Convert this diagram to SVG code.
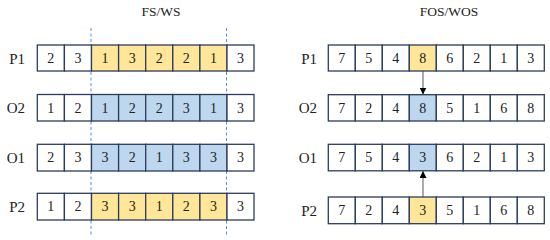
<svg xmlns="http://www.w3.org/2000/svg" width="550" height="240" viewBox="0 0 550 240">
<style>
text{font-family:"Liberation Serif","DejaVu Serif",serif;fill:#222}
.t{font-size:14px;text-anchor:middle}
.lab{font-size:15px;text-anchor:end}
.ttl{font-size:13.5px;text-anchor:middle}
.c{fill:#fff;stroke:#2B3C5E;stroke-width:1.3}
.y{fill:#FFE699;stroke:#2B3C5E;stroke-width:1.3}
.b{fill:#BDD7EE;stroke:#2B3C5E;stroke-width:1.3}
.dash{stroke:#5B8BD6;stroke-width:1;stroke-dasharray:3,2.5;fill:none}
.arr{stroke:#7F7F7F;stroke-width:1.3;fill:none}
</style>
<defs>
<marker id="ah" markerWidth="8" markerHeight="7" refX="7" refY="3.5" orient="auto" markerUnits="userSpaceOnUse">
<path d="M0,0 L7,3.5 L0,7 Z" fill="#000"/>
</marker>
</defs>
<g id="connectors">
<line class="dash" x1="91" y1="28" x2="91" y2="236"/>
<line class="dash" x1="226.5" y1="28" x2="226.5" y2="236"/>
<line class="arr" x1="423" y1="71" x2="423" y2="94.5" marker-end="url(#ah)"/>
<line class="arr" x1="423" y1="197" x2="423" y2="171" marker-end="url(#ah)"/>
</g>
<text class="ttl" x="161" y="16">FS/WS</text>
<text class="ttl" x="449" y="16">FOS/WOS</text>

<g id="L-P1">
<text class="lab" x="25" y="63.5">P1</text>
<rect class="c" x="37.3" y="45" width="27.1" height="26"/><text class="t" x="50.85" y="62.8">2</text>
<rect class="c" x="64.4" y="45" width="27.1" height="26"/><text class="t" x="77.95" y="62.8">3</text>
<rect class="y" x="91.5" y="45" width="27.1" height="26"/><text class="t" x="105.05" y="62.8">1</text>
<rect class="y" x="118.6" y="45" width="27.1" height="26"/><text class="t" x="132.15" y="62.8">3</text>
<rect class="y" x="145.7" y="45" width="27.1" height="26"/><text class="t" x="159.25" y="62.8">2</text>
<rect class="y" x="172.8" y="45" width="27.1" height="26"/><text class="t" x="186.35" y="62.8">2</text>
<rect class="y" x="199.9" y="45" width="27.1" height="26"/><text class="t" x="213.45" y="62.8">1</text>
<rect class="c" x="227" y="45" width="27" height="26"/><text class="t" x="240.5" y="62.8">3</text>
</g>
<g id="L-O2">
<text class="lab" x="25" y="113">O2</text>
<rect class="c" x="37.3" y="94.5" width="27.1" height="26.5"/><text class="t" x="50.85" y="112.5">1</text>
<rect class="c" x="64.4" y="94.5" width="27.1" height="26.5"/><text class="t" x="77.95" y="112.5">2</text>
<rect class="b" x="91.5" y="94.5" width="27.1" height="26.5"/><text class="t" x="105.05" y="112.5">1</text>
<rect class="b" x="118.6" y="94.5" width="27.1" height="26.5"/><text class="t" x="132.15" y="112.5">2</text>
<rect class="b" x="145.7" y="94.5" width="27.1" height="26.5"/><text class="t" x="159.25" y="112.5">2</text>
<rect class="b" x="172.8" y="94.5" width="27.1" height="26.5"/><text class="t" x="186.35" y="112.5">3</text>
<rect class="b" x="199.9" y="94.5" width="27.1" height="26.5"/><text class="t" x="213.45" y="112.5">1</text>
<rect class="c" x="227" y="94.5" width="27" height="26.5"/><text class="t" x="240.5" y="112.5">3</text>
</g>
<g id="L-O1">
<text class="lab" x="25" y="163">O1</text>
<rect class="c" x="37.3" y="144.3" width="27.1" height="26.7"/><text class="t" x="50.85" y="162.4">2</text>
<rect class="c" x="64.4" y="144.3" width="27.1" height="26.7"/><text class="t" x="77.95" y="162.4">3</text>
<rect class="b" x="91.5" y="144.3" width="27.1" height="26.7"/><text class="t" x="105.05" y="162.4">3</text>
<rect class="b" x="118.6" y="144.3" width="27.1" height="26.7"/><text class="t" x="132.15" y="162.4">2</text>
<rect class="b" x="145.7" y="144.3" width="27.1" height="26.7"/><text class="t" x="159.25" y="162.4">1</text>
<rect class="b" x="172.8" y="144.3" width="27.1" height="26.7"/><text class="t" x="186.35" y="162.4">3</text>
<rect class="b" x="199.9" y="144.3" width="27.1" height="26.7"/><text class="t" x="213.45" y="162.4">3</text>
<rect class="c" x="227" y="144.3" width="27" height="26.7"/><text class="t" x="240.5" y="162.4">3</text>
</g>
<g id="L-P2">
<text class="lab" x="25" y="212">P2</text>
<rect class="c" x="37.3" y="193.3" width="27.1" height="26.7"/><text class="t" x="50.85" y="211.4">1</text>
<rect class="c" x="64.4" y="193.3" width="27.1" height="26.7"/><text class="t" x="77.95" y="211.4">2</text>
<rect class="y" x="91.5" y="193.3" width="27.1" height="26.7"/><text class="t" x="105.05" y="211.4">3</text>
<rect class="y" x="118.6" y="193.3" width="27.1" height="26.7"/><text class="t" x="132.15" y="211.4">3</text>
<rect class="y" x="145.7" y="193.3" width="27.1" height="26.7"/><text class="t" x="159.25" y="211.4">1</text>
<rect class="y" x="172.8" y="193.3" width="27.1" height="26.7"/><text class="t" x="186.35" y="211.4">2</text>
<rect class="y" x="199.9" y="193.3" width="27.1" height="26.7"/><text class="t" x="213.45" y="211.4">3</text>
<rect class="c" x="227" y="193.3" width="27" height="26.7"/><text class="t" x="240.5" y="211.4">3</text>
</g>

<g id="R-P1">
<text class="lab" x="317" y="63.5">P1</text>
<rect class="c" x="328.3" y="45" width="27" height="26"/><text class="t" x="341.8" y="62.8">7</text>
<rect class="c" x="355.3" y="45" width="27" height="26"/><text class="t" x="368.8" y="62.8">5</text>
<rect class="c" x="382.3" y="45" width="27" height="26"/><text class="t" x="395.8" y="62.8">4</text>
<rect class="y" x="409.3" y="45" width="27" height="26"/><text class="t" x="422.8" y="62.8">8</text>
<rect class="c" x="436.3" y="45" width="27" height="26"/><text class="t" x="449.8" y="62.8">6</text>
<rect class="c" x="463.3" y="45" width="27" height="26"/><text class="t" x="476.8" y="62.8">2</text>
<rect class="c" x="490.3" y="45" width="27" height="26"/><text class="t" x="503.8" y="62.8">1</text>
<rect class="c" x="517.3" y="45" width="27" height="26"/><text class="t" x="530.8" y="62.8">3</text>
</g>
<g id="R-O2">
<text class="lab" x="317" y="113">O2</text>
<rect class="c" x="328.3" y="94.7" width="27" height="26.3"/><text class="t" x="341.8" y="112.5">7</text>
<rect class="c" x="355.3" y="94.7" width="27" height="26.3"/><text class="t" x="368.8" y="112.5">2</text>
<rect class="c" x="382.3" y="94.7" width="27" height="26.3"/><text class="t" x="395.8" y="112.5">4</text>
<rect class="b" x="409.3" y="94.7" width="27" height="26.3"/><text class="t" x="422.8" y="112.5">8</text>
<rect class="c" x="436.3" y="94.7" width="27" height="26.3"/><text class="t" x="449.8" y="112.5">5</text>
<rect class="c" x="463.3" y="94.7" width="27" height="26.3"/><text class="t" x="476.8" y="112.5">1</text>
<rect class="c" x="490.3" y="94.7" width="27" height="26.3"/><text class="t" x="503.8" y="112.5">6</text>
<rect class="c" x="517.3" y="94.7" width="27" height="26.3"/><text class="t" x="530.8" y="112.5">8</text>
</g>
<g id="R-O1">
<text class="lab" x="317" y="163">O1</text>
<rect class="c" x="328.3" y="144.3" width="27" height="26.5"/><text class="t" x="341.8" y="162.4">7</text>
<rect class="c" x="355.3" y="144.3" width="27" height="26.5"/><text class="t" x="368.8" y="162.4">5</text>
<rect class="c" x="382.3" y="144.3" width="27" height="26.5"/><text class="t" x="395.8" y="162.4">4</text>
<rect class="b" x="409.3" y="144.3" width="27" height="26.5"/><text class="t" x="422.8" y="162.4">3</text>
<rect class="c" x="436.3" y="144.3" width="27" height="26.5"/><text class="t" x="449.8" y="162.4">6</text>
<rect class="c" x="463.3" y="144.3" width="27" height="26.5"/><text class="t" x="476.8" y="162.4">2</text>
<rect class="c" x="490.3" y="144.3" width="27" height="26.5"/><text class="t" x="503.8" y="162.4">1</text>
<rect class="c" x="517.3" y="144.3" width="27" height="26.5"/><text class="t" x="530.8" y="162.4">3</text>
</g>
<g id="R-P2">
<text class="lab" x="317" y="215.5">P2</text>
<rect class="c" x="328.3" y="197" width="27" height="26.7"/><text class="t" x="341.8" y="215.1">7</text>
<rect class="c" x="355.3" y="197" width="27" height="26.7"/><text class="t" x="368.8" y="215.1">2</text>
<rect class="c" x="382.3" y="197" width="27" height="26.7"/><text class="t" x="395.8" y="215.1">4</text>
<rect class="y" x="409.3" y="197" width="27" height="26.7"/><text class="t" x="422.8" y="215.1">3</text>
<rect class="c" x="436.3" y="197" width="27" height="26.7"/><text class="t" x="449.8" y="215.1">5</text>
<rect class="c" x="463.3" y="197" width="27" height="26.7"/><text class="t" x="476.8" y="215.1">1</text>
<rect class="c" x="490.3" y="197" width="27" height="26.7"/><text class="t" x="503.8" y="215.1">6</text>
<rect class="c" x="517.3" y="197" width="27" height="26.7"/><text class="t" x="530.8" y="215.1">8</text>
</g>
</svg>
